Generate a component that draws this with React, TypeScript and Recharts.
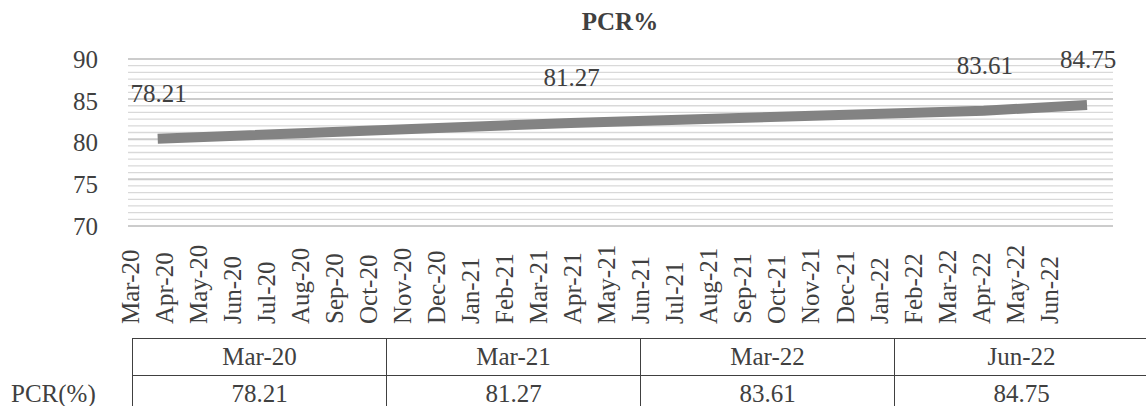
import React from 'react';
import { LineChart, Line, XAxis, YAxis, ReferenceLine, LabelList } from 'recharts';

// month axis (category) and the PCR readings shown in the table
const months = [
  'Mar-20', 'Apr-20', 'May-20', 'Jun-20', 'Jul-20', 'Aug-20', 'Sep-20', 'Oct-20',
  'Nov-20', 'Dec-20', 'Jan-21', 'Feb-21', 'Mar-21', 'Apr-21', 'May-21', 'Jun-21',
  'Jul-21', 'Aug-21', 'Sep-21', 'Oct-21', 'Nov-21', 'Dec-21', 'Jan-22', 'Feb-22',
  'Mar-22', 'Apr-22', 'May-22', 'Jun-22',
];
const pcrDates = ['Mar-20', 'Mar-21', 'Mar-22', 'Jun-22'];
const pcrValues = [78.21, 81.27, 83.61, 84.75];

const yTicks = [70, 75, 80, 85, 90];
const gridValues = [
  70, 70.8, 71.6, 72.4, 73.2, 74, 74.8, 75.6, 76.4, 77.2, 78, 78.8, 79.6,
  80.4, 81.2, 82, 82.8, 83.6, 84.4, 85.2, 86, 86.8, 87.6, 88.4, 89.2, 90,
];
const darkGrid = [70, 75.6, 80.4, 85.2, 90];

const FONT = 'Liberation Serif, Times New Roman, serif';
const TEXT = '#404040';

const axisData = months.map(m => ({ month: m }));
const pcrData = pcrDates.map((d, i) => ({ idx: months.indexOf(d), pcr: pcrValues[i] }));

const MonthTick = ({ x, y, payload }: any) => {
  const ay = y + 98;
  return (
    <text x={x + 2} y={ay} transform={`rotate(-90, ${x + 2}, ${ay})`} dy="0.35em"
      textAnchor="start" fontFamily={FONT} fontSize={25} fill={TEXT}
      style={{ fontFamily: FONT }}>
      {payload.value}
    </text>
  );
};

const ValueTick = ({ x, y, payload }: any) => (
  <text x={x} y={y} dy="0.35em" textAnchor="end" fontFamily={FONT} fontSize={25} fill={TEXT}
    style={{ fontFamily: FONT }}>
    {payload.value}
  </text>
);

const PcrLabel = ({ x, y, value }: any) => (
  <text x={x + 1} y={y - 46} dy="0.35em" textAnchor="middle" fontFamily={FONT} fontSize={25} fill={TEXT}
    style={{ fontFamily: FONT }}>
    {value}
  </text>
);

const cell: React.CSSProperties = {
  width: 254, height: 36, boxSizing: 'border-box', textAlign: 'center', lineHeight: '36px',
  borderLeft: '1.5px solid #404040', fontSize: 25, fontFamily: FONT, color: TEXT,
};

export default function App() {
  return (
    <div style={{ position: 'absolute', left: 0, top: 0, width: 1146, height: 406, background: '#fff', overflow: 'hidden', fontFamily: FONT }}>
      <div style={{ position: 'absolute', left: 520, top: 8, width: 200, textAlign: 'center', fontFamily: FONT, fontWeight: 700, fontSize: 25, color: TEXT }}>
        PCR%
      </div>
      <LineChart width={1146} height={406} data={axisData} margin={{ top: 59, right: 33, left: 0, bottom: 0 }}
        style={{ fontFamily: FONT }}>
        <XAxis dataKey="month" type="category" height={180} interval={0} tick={<MonthTick />}
          tickLine={false} axisLine={false} tickSize={0} tickMargin={0} padding={{ left: 0, right: 66 }} />
        <YAxis type="number" domain={[70, 90]} ticks={yTicks} width={128} axisLine={false} tickLine={false}
          tickSize={0} tickMargin={30} tick={<ValueTick />} allowDataOverflow />
        <XAxis xAxisId="sec" type="number" dataKey="idx" domain={[-0.863, 27.755]} allowDataOverflow hide />
        <YAxis yAxisId="sec" type="number" domain={[61.4, 93.6]} allowDataOverflow hide />
        {/* invisible series so the primary value axis gets a scale */}
        <Line dataKey="gridDummy" stroke="none" dot={false} activeDot={false} isAnimationActive={false} legendType="none" />
        {gridValues.map(v => (
          <ReferenceLine key={v} y={v} stroke={darkGrid.includes(v) ? '#cccccc' : '#d9d9d9'}
            strokeWidth={darkGrid.includes(v) ? 2 : 1.3} />
        ))}
        <Line data={pcrData} xAxisId="sec" yAxisId="sec" dataKey="pcr" stroke="#838383" strokeWidth={10}
          dot={false} activeDot={false} isAnimationActive={false} strokeLinecap="butt">
          <LabelList dataKey="pcr" content={<PcrLabel />} />
        </Line>
      </LineChart>
      <div style={{ position: 'absolute', left: 0, top: 338, display: 'flex', flexDirection: 'column' }}>
        <div style={{ display: 'flex', marginLeft: 132, borderTop: '1.5px solid #404040', borderBottom: '1.5px solid #404040' }}>
          {pcrDates.map(d => <div key={d} style={cell}>{d}</div>)}
        </div>
        <div style={{ display: 'flex' }}>
          <div style={{ width: 132, height: 36, lineHeight: '36px', paddingLeft: 11, boxSizing: 'border-box', fontSize: 25, fontFamily: FONT, color: TEXT }}>PCR(%)</div>
          {pcrValues.map((v, i) => <div key={i} style={cell}>{v.toFixed(2)}</div>)}
        </div>
      </div>
    </div>
  );
}
